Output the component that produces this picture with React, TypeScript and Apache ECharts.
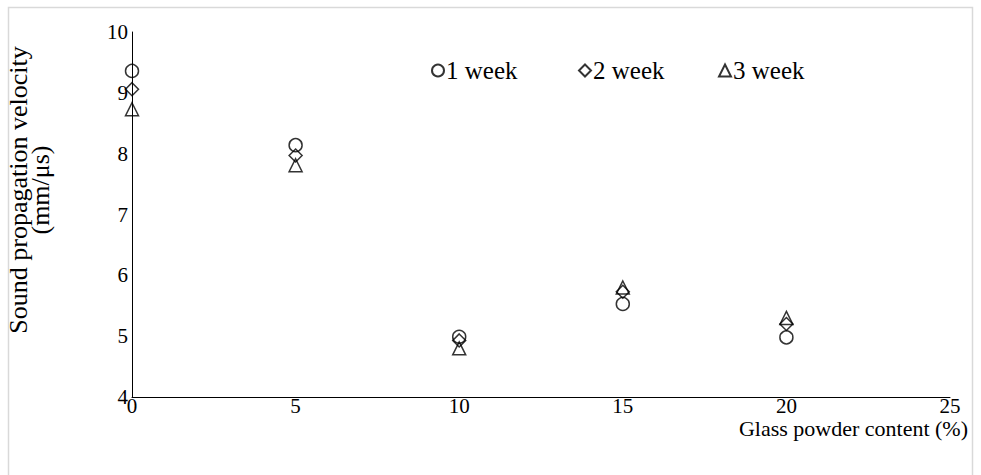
import React, { useEffect, useRef } from 'react';
import * as echarts from 'echarts';

const xValues = [0, 5, 10, 15, 20];
const week1 = [9.36, 8.14, 4.99, 5.53, 4.98];
const week2 = [9.06, 7.97, 4.93, 5.73, 5.2];
const week3 = [8.73, 7.81, 4.8, 5.8, 5.3];
const seriesNames = ['1 week', '2 week', '3 week'];
const seriesSymbols = ['circle', 'diamond', 'triangle'];
const yTitleLines = ['Sound propagation velocity', '(mm/μs)'];
const xTitle = 'Glass powder content (%)';

const FONT = '"Liberation Serif", "Times New Roman", serif';

export default function App() {
  const ref = useRef<HTMLDivElement>(null);
  useEffect(() => {
    document.body.style.margin = '0';
    const chart = echarts.init(ref.current!, undefined, { renderer: 'svg' });
    const all = [week1, week2, week3];
    const legendLefts = [426, 573, 713];
    chart.setOption({
      animation: false,
      backgroundColor: '#fff',
      textStyle: { fontFamily: FONT },
      grid: { left: 132, top: 32, right: 31, bottom: 78, outerBoundsMode: 'none', containLabel: false },
      legend: seriesNames.map((n, i) => ({
        data: [n],
        left: legendLefts[i],
        top: 53,
        itemWidth: 12,
        itemHeight: 12,
        selectedMode: false,
        textStyle: { fontFamily: FONT, fontSize: 25, color: '#000', padding: [0, 0, 0, -3] },
      })),
      xAxis: {
        type: 'value',
        min: 0,
        max: 25,
        interval: 5,
        axisLine: { show: true, lineStyle: { color: '#000', width: 1 } },
        axisTick: { show: false },
        splitLine: { show: false },
        axisLabel: { color: '#000', fontFamily: FONT, fontSize: 21, margin: -2 },
      },
      yAxis: {
        type: 'value',
        min: 4,
        max: 10,
        interval: 1,
        axisLine: { show: true, lineStyle: { color: '#000', width: 1 } },
        axisTick: { show: false },
        splitLine: { show: false },
        axisLabel: { color: '#000', fontFamily: FONT, fontSize: 21, margin: 4 },
      },
      series: seriesNames.map((n, i) => ({
        name: n,
        type: 'scatter',
        symbol: seriesSymbols[i],
        symbolSize: 13,
        itemStyle: { color: 'rgba(0,0,0,0)', borderColor: '#000', borderWidth: 1.5 },
        data: xValues.map((x, j) => [x, all[i][j]]),
      })),
      graphic: [
        {
          type: 'rect',
          shape: { x: 8.5, y: 7.5, width: 964, height: 490 },
          style: { fill: 'none', stroke: '#d9d9d9', lineWidth: 1.5 },
          silent: true,
        },
        ...yTitleLines.map((t, i) => ({
          type: 'text',
          x: 18 + i * 22,
          y: 190,
          rotation: Math.PI / 2,
          style: {
            text: t,
            fontFamily: FONT,
            fontSize: 26,
            fill: '#000',
            align: 'center',
            verticalAlign: 'middle',
          },
        })),
        {
          type: 'text',
          x: 968,
          y: 428,
          style: {
            text: xTitle,
            fontFamily: FONT,
            fontSize: 22,
            fill: '#000',
            align: 'right',
            verticalAlign: 'middle',
          },
        },
      ],
    });
    return () => chart.dispose();
  }, []);
  return <div ref={ref} style={{ width: 981, height: 475 }} />;
}
